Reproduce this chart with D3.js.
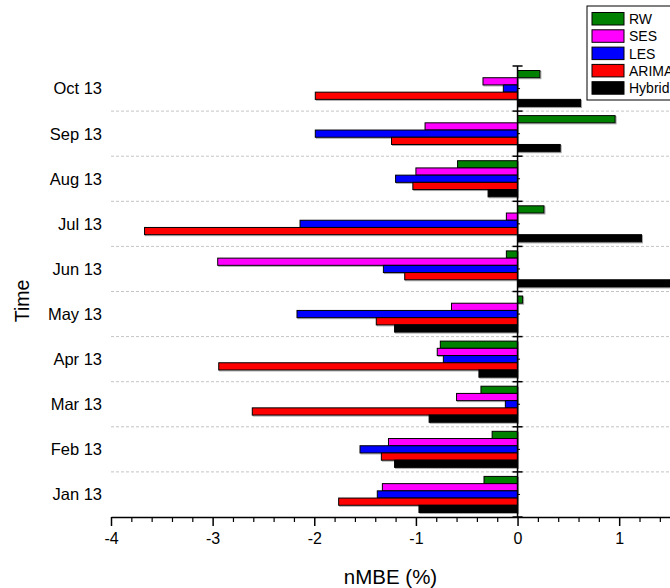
<!DOCTYPE html>
<html>
<head>
<meta charset="utf-8">
<script src="https://cdn.jsdelivr.net/npm/d3@7"></script>
<style>
  body { margin: 0; background: #fff; }
  svg { display: block; font-family: Arial, "Liberation Sans", sans-serif; }
</style>
</head>
<body>
<svg id="chart" width="670" height="588"></svg>
<script>
// Monthly nMBE (%) per forecasting model
const months = ["Jan 13", "Feb 13", "Mar 13", "Apr 13", "May 13", "Jun 13", "Jul 13", "Aug 13", "Sep 13", "Oct 13"];
const seriesNames = ["RW", "SES", "LES", "ARIMA", "Hybrid"];
const seriesColors = ["#008000", "#ff00ff", "#0000ff", "#ff0000", "#000000"];
const rw     = [-0.33, -0.25, -0.36, -0.76,  0.05, -0.11,  0.26, -0.59,  0.96,  0.22];
const ses    = [-1.33, -1.27, -0.60, -0.79, -0.65, -2.95, -0.11, -1.00, -0.91, -0.34];
const les    = [-1.38, -1.55, -0.12, -0.73, -2.17, -1.32, -2.14, -1.20, -1.99, -0.14];
const arima  = [-1.76, -1.34, -2.61, -2.94, -1.39, -1.11, -3.67, -1.03, -1.24, -1.99];
const hybrid = [-0.97, -1.21, -0.87, -0.38, -1.21,  1.65,  1.22, -0.29,  0.42,  0.62];
const xMajorTicks = [-4, -3, -2, -1, 0, 1];
const xTitle = "nMBE (%)";
const yTitle = "Time";

const seriesValues = [rw, ses, les, arima, hybrid];
const rows = [];
months.forEach((m, i) => {
  seriesNames.forEach((s, j) => rows.push({ month: m, series: s, value: seriesValues[j][i], color: seriesColors[j] }));
});

const svg = d3.select("#chart");

const x = d3.scaleLinear().domain([-4, 1.5]).range([111, 670]);
const y = d3.scaleBand().domain(months).range([517, 66]).paddingInner(0.2).paddingOuter(0.1);
const sy = d3.scaleBand().domain(seriesNames).range([0, y.bandwidth()]);

const halfGap = (y.step() - y.bandwidth()) / 2;
const topEdge = m => y(m) - halfGap;
const boundaries = months.map(topEdge).concat([y(months[0]) + y.bandwidth() + halfGap]);

// dashed separators between months
svg.append("g").selectAll("line")
  .data(months.slice(0, -1))
  .join("line")
  .attr("x1", x(-4)).attr("x2", 670)
  .attr("y1", d => topEdge(d)).attr("y2", d => topEdge(d))
  .attr("stroke", "#c4c4c4").attr("stroke-width", 1).attr("stroke-dasharray", "3,2");

// soft grey shadow under each bar, then the bars
const barX = d => x(Math.min(0, d.value));
const barW = d => Math.abs(x(d.value) - x(0));
const barY = d => y(d.month) + sy(d.series);
svg.append("g").selectAll("rect")
  .data(rows)
  .join("rect")
  .attr("x", d => barX(d) + 1).attr("width", barW)
  .attr("y", d => barY(d) + 1).attr("height", sy.bandwidth())
  .attr("fill", "none").attr("stroke", "#a8a8a8").attr("stroke-width", 1);
svg.append("g").selectAll("rect")
  .data(rows)
  .join("rect")
  .attr("x", barX).attr("width", barW)
  .attr("y", barY).attr("height", sy.bandwidth())
  .attr("fill", d => d.color)
  .attr("stroke", "#000").attr("stroke-width", 1);

// vertical axis at zero
const zx = x(0);
const vAxis = svg.append("g").attr("stroke", "#000");
vAxis.append("line").attr("x1", zx).attr("x2", zx).attr("y1", d3.min(boundaries)).attr("y2", d3.max(boundaries)).attr("stroke-width", 1.5);
vAxis.selectAll(".bt").data(boundaries).join("line")
  .attr("x1", zx - 5).attr("x2", zx + 5).attr("y1", d => d).attr("y2", d => d).attr("stroke-width", 1.5);
vAxis.selectAll(".ct").data(months).join("line")
  .attr("x1", zx).attr("x2", zx + 2.5)
  .attr("y1", d => y(d) + y.bandwidth() / 2).attr("y2", d => y(d) + y.bandwidth() / 2).attr("stroke-width", 1);

// category labels
svg.append("g").selectAll("text")
  .data(months)
  .join("text")
  .attr("x", 102).attr("y", d => y(d) + y.bandwidth() / 2).attr("dy", "0.36em")
  .attr("text-anchor", "end").attr("font-size", 16.5).attr("fill", "#000")
  .text(d => d);

// bottom axis: minor then major ticks
const axisY = 517;
const minorTicks = d3.range(-40, 16, 2).map(v => v / 10).filter(v => !xMajorTicks.includes(v));
const gMinor = svg.append("g").attr("transform", `translate(0,${axisY})`)
  .call(d3.axisBottom(x).tickValues(minorTicks).tickSize(5).tickSizeOuter(0).tickFormat(""));
gMinor.select(".domain").remove();
gMinor.selectAll("line").attr("stroke-width", 1.2);
const gMajor = svg.append("g").attr("transform", `translate(0,${axisY})`)
  .call(d3.axisBottom(x).tickValues(xMajorTicks).tickSize(9).tickSizeOuter(0).tickPadding(7).tickFormat(d => String(d)));
gMajor.select(".domain").attr("stroke-width", 1.5);
gMajor.selectAll("line").attr("stroke-width", 1.5);
gMajor.selectAll("text").attr("font-size", 16).attr("font-family", "Arial, 'Liberation Sans', sans-serif").attr("fill", "#000");

// axis titles
svg.append("text").attr("x", (x(-4) + 670) / 2).attr("y", 584)
  .attr("text-anchor", "middle").attr("font-size", 20.5).attr("fill", "#000").text(xTitle);
svg.append("text").attr("transform", "translate(29,301) rotate(-90)")
  .attr("text-anchor", "middle").attr("font-size", 19.5).attr("fill", "#000").text(yTitle);

// legend
const legend = svg.append("g").attr("transform", "translate(587,6)");
legend.append("rect").attr("width", 100).attr("height", 94).attr("fill", "#fff").attr("stroke", "#000").attr("stroke-width", 1);
const items = legend.selectAll("g.item").data(seriesNames).join("g")
  .attr("transform", (d, i) => `translate(5,${6.5 + i * 17.3})`);
items.append("rect").attr("width", 32).attr("height", 12.5)
  .attr("fill", (d, i) => seriesColors[i]).attr("stroke", "#000").attr("stroke-width", 1);
items.append("text").attr("x", 37).attr("y", 6.5).attr("dy", "0.35em")
  .attr("font-size", 14).attr("fill", "#000").text(d => d);
</script>
</body>
</html>
